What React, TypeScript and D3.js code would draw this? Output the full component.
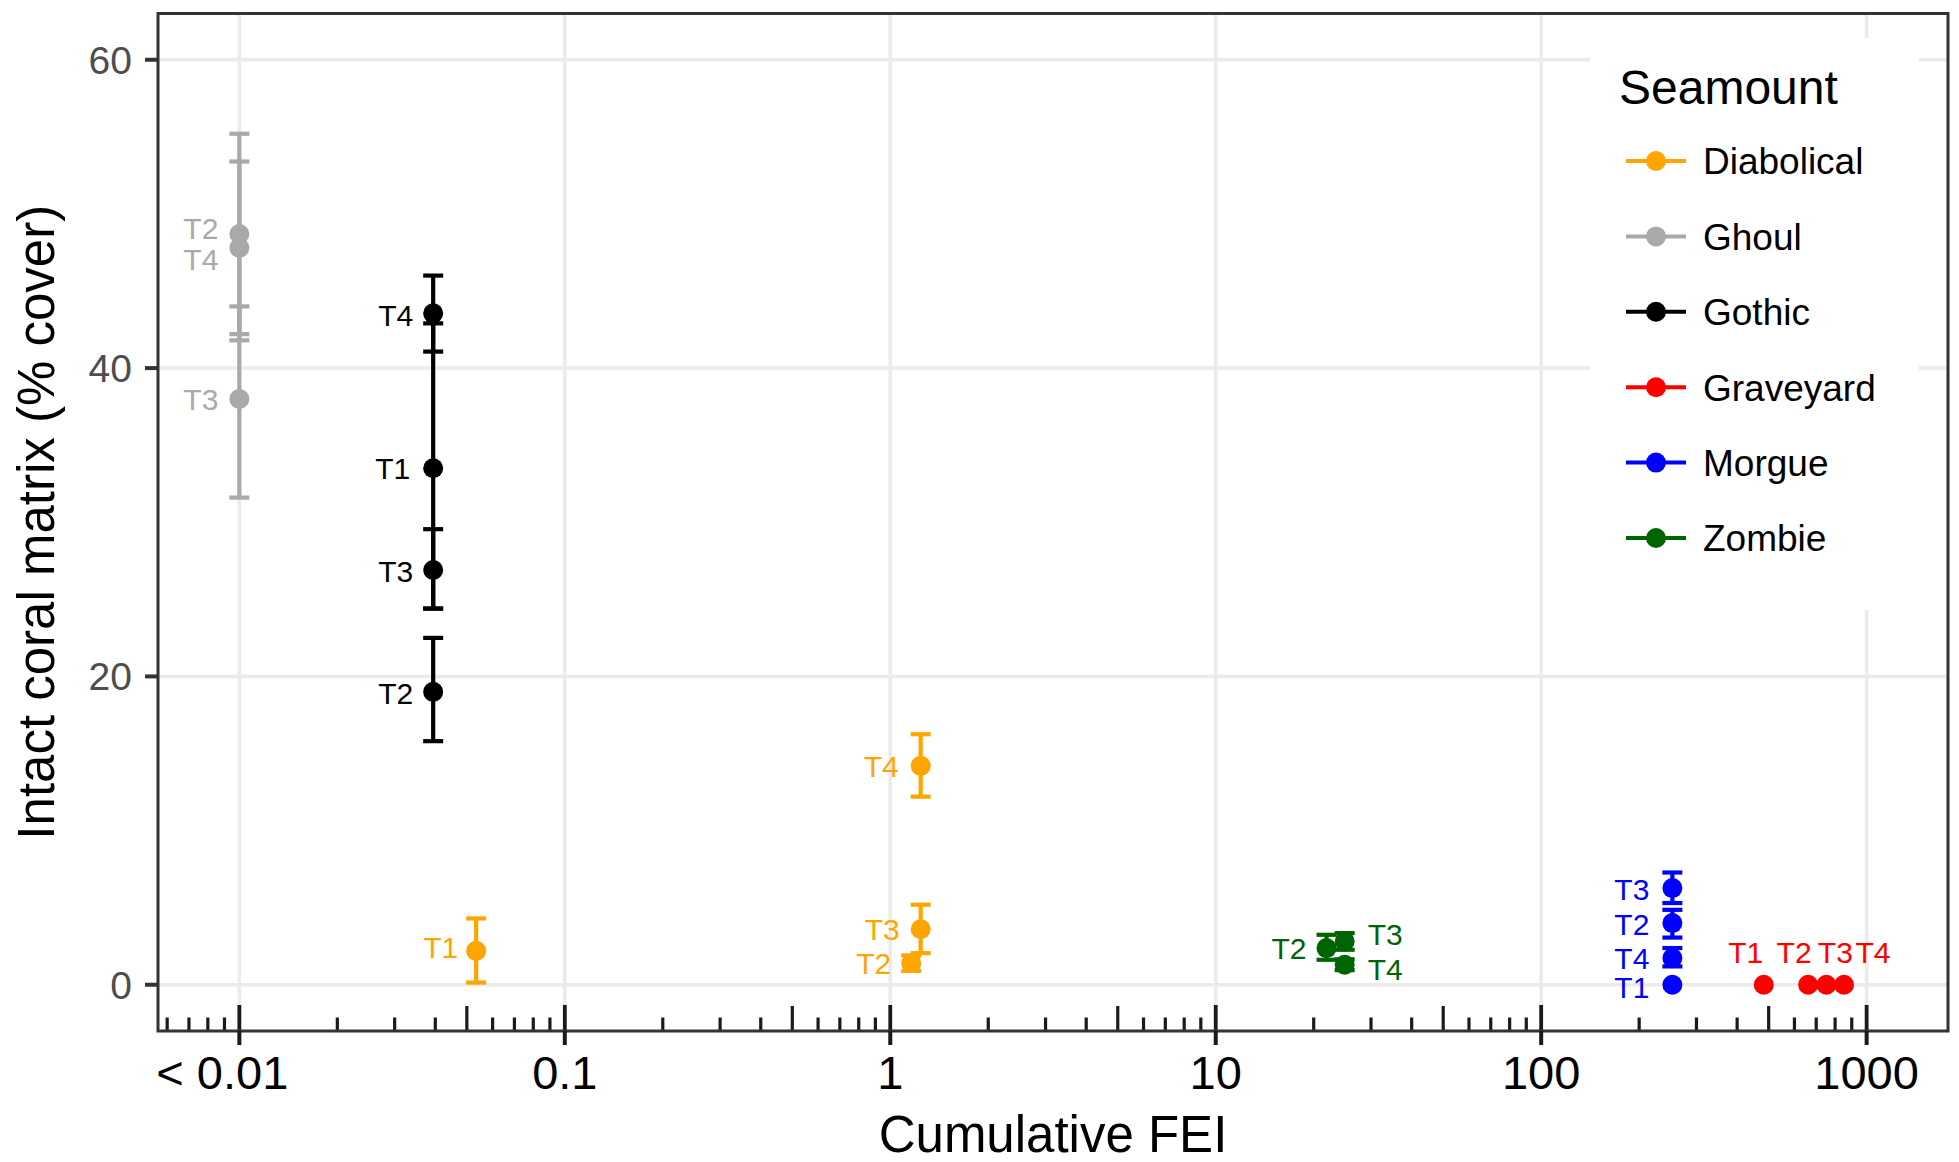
import React, { useRef, useEffect } from "react";
import * as d3 from "d3";

// seamounts, in legend order, with their colours
const seamounts = ["Diabolical", "Ghoul", "Gothic", "Graveyard", "Morgue", "Zombie"];
const seamountColors = ["#FFA500", "#A9A9A9", "#000000", "#FF0000", "#0000FF", "#006400"];

// one entry per transect
const pointSeamount = [
  "Diabolical", "Diabolical", "Diabolical", "Diabolical",
  "Ghoul", "Ghoul", "Ghoul",
  "Gothic", "Gothic", "Gothic", "Gothic",
  "Graveyard", "Graveyard", "Graveyard", "Graveyard",
  "Morgue", "Morgue", "Morgue", "Morgue",
  "Zombie", "Zombie", "Zombie",
];
const pointTransect = [
  "T1", "T2", "T3", "T4",
  "T2", "T3", "T4",
  "T1", "T2", "T3", "T4",
  "T1", "T2", "T3", "T4",
  "T1", "T2", "T3", "T4",
  "T2", "T3", "T4",
];
const pointFEI = [
  0.0534, 1.16, 1.24, 1.24,
  0.01, 0.01, 0.01,
  0.0394, 0.0394, 0.0394, 0.0394,
  483, 661, 752, 852,
  253, 253, 253, 253,
  21.9, 24.9, 24.9,
];
const pointCover = [
  2.2, 1.4, 3.6, 14.2,
  48.7, 38.0, 47.8,
  33.5, 19.0, 26.9, 43.55,
  0, 0, 0, 0,
  0, 4.0, 6.27, 1.73,
  2.38, 2.81, 1.3,
];
const pointLow: (number | null)[] = [
  0.14, 0.9, 2.05, 12.2,
  42.2, 31.6, 41.8,
  24.4, 15.8, 24.4, 41.07,
  null, null, null, null,
  null, 3.06, 5.3, 1.19,
  1.62, 2.27, 0.95,
];
const pointHigh: (number | null)[] = [
  4.3, 1.9, 5.19, 16.25,
  55.2, 44.0, 53.4,
  42.9, 22.5, 29.55, 46.0,
  null, null, null, null,
  null, 4.86, 7.28, 2.38,
  3.24, 3.35, 1.65,
];

// axis ticks
const yTicks = [0, 20, 40, 60];
const xTicks = [0.01, 0.1, 1, 10, 100, 1000];
const xTickLabels = ["< 0.01", "0.1", "1", "10", "100", "1000"];

// repelled label placement: [dx, dy, anchor] in px from the point
const labelNudge: Record<string, [number, number, string]> = {
  "Diabolical-T1": [-18, -4, "end"],
  "Diabolical-T2": [-20, 0, "end"],
  "Diabolical-T3": [-21, 0, "end"],
  "Diabolical-T4": [-22, 0, "end"],
  "Ghoul-T2": [-21, -6, "end"],
  "Ghoul-T3": [-21, 0, "end"],
  "Ghoul-T4": [-21, 11, "end"],
  "Gothic-T1": [-23, 0, "end"],
  "Gothic-T2": [-20, 1, "end"],
  "Gothic-T3": [-20, 1.5, "end"],
  "Gothic-T4": [-20, 2, "end"],
  "Graveyard-T1": [-18, -33, "middle"],
  "Graveyard-T2": [-14, -33, "middle"],
  "Graveyard-T3": [9, -33, "middle"],
  "Graveyard-T4": [29, -33, "middle"],
  "Morgue-T1": [-23, 2, "end"],
  "Morgue-T2": [-23, 1.5, "end"],
  "Morgue-T3": [-23, 1.5, "end"],
  "Morgue-T4": [-23, 0.5, "end"],
  "Zombie-T2": [-20, 0, "end"],
  "Zombie-T3": [23, -7, "start"],
  "Zombie-T4": [23, 4, "start"],
};

const FONT = "'Liberation Sans', Arial, sans-serif";

const SeamountChart = ({ width = 1959, height = 1162 }) => {
  const chartRef = useRef<SVGSVGElement | null>(null);

  useEffect(() => {
    if (!chartRef.current) return;
    const svg = d3.select(chartRef.current);
    svg.selectAll("*").remove();

    const panel = { left: 158, right: 1948, top: 13.5, bottom: 1031 };

    const x = d3
      .scaleLog()
      .domain([10 ** -2.25, 10 ** 3.25])
      .range([panel.left, panel.right]);
    const y = d3.scaleLinear().domain([-3, 63]).range([panel.bottom, panel.top]);
    const color = d3.scaleOrdinal<string, string>().domain(seamounts).range(seamountColors);

    svg.append("rect").attr("width", width).attr("height", height).attr("fill", "#fff");

    // grid
    const grid = svg.append("g").attr("stroke", "#EBEBEB").attr("stroke-width", 3.5);
    grid
      .selectAll("line.gy")
      .data(yTicks)
      .enter()
      .append("line")
      .attr("x1", panel.left)
      .attr("x2", panel.right)
      .attr("y1", (d) => y(d))
      .attr("y2", (d) => y(d));
    grid
      .selectAll("line.gx")
      .data(xTicks)
      .enter()
      .append("line")
      .attr("x1", (d) => x(d))
      .attr("x2", (d) => x(d))
      .attr("y1", panel.top)
      .attr("y2", panel.bottom);

    // legend background sits over the grid
    svg
      .append("rect")
      .attr("x", 1590)
      .attr("y", 38)
      .attr("width", 329)
      .attr("height", 572)
      .attr("fill", "#fff");

    const idx = d3.range(pointFEI.length);
    const key = (i: number) => labelNudge[`${pointSeamount[i]}-${pointTransect[i]}`];

    // error bars
    const bars = svg
      .append("g")
      .attr("stroke-width", 4.2)
      .selectAll("g")
      .data(idx.filter((i) => pointLow[i] !== null && pointHigh[i] !== null))
      .enter()
      .append("g")
      .attr("stroke", (i) => color(pointSeamount[i]));
    bars
      .append("line")
      .attr("x1", (i) => x(pointFEI[i]))
      .attr("x2", (i) => x(pointFEI[i]))
      .attr("y1", (i) => y(pointLow[i] as number))
      .attr("y2", (i) => y(pointHigh[i] as number));
    bars
      .append("line")
      .attr("x1", (i) => x(pointFEI[i]) - 10)
      .attr("x2", (i) => x(pointFEI[i]) + 10)
      .attr("y1", (i) => y(pointLow[i] as number))
      .attr("y2", (i) => y(pointLow[i] as number));
    bars
      .append("line")
      .attr("x1", (i) => x(pointFEI[i]) - 10)
      .attr("x2", (i) => x(pointFEI[i]) + 10)
      .attr("y1", (i) => y(pointHigh[i] as number))
      .attr("y2", (i) => y(pointHigh[i] as number));

    // points
    svg
      .append("g")
      .selectAll("circle")
      .data(idx)
      .enter()
      .append("circle")
      .attr("cx", (i) => x(pointFEI[i]))
      .attr("cy", (i) => y(pointCover[i]))
      .attr("r", 10)
      .attr("fill", (i) => color(pointSeamount[i]));

    // transect labels
    svg
      .append("g")
      .style("font-family", FONT)
      .attr("font-size", 30)
      .selectAll("text")
      .data(idx)
      .enter()
      .append("text")
      .attr("x", (i) => x(pointFEI[i]) + key(i)[0])
      .attr("y", (i) => y(pointCover[i]) + key(i)[1] + 10.8)
      .attr("text-anchor", (i) => key(i)[2])
      .attr("fill", (i) => color(pointSeamount[i]))
      .text((i) => pointTransect[i]);

    // log ticks inside the panel along the bottom
    const logTicks: { v: number; k: number }[] = [];
    for (let e = -3; e <= 3; e++) {
      for (let k = 1; k <= 9; k++) {
        const v = k * 10 ** e;
        const px = x(v);
        if (px >= panel.left + 2 && px <= panel.right - 2) logTicks.push({ v, k });
      }
    }
    svg
      .append("g")
      .attr("stroke", "#1a1a1a")
      .selectAll("line")
      .data(logTicks)
      .enter()
      .append("line")
      .attr("x1", (d) => x(d.v))
      .attr("x2", (d) => x(d.v))
      .attr("y1", panel.bottom)
      .attr("y2", (d) => panel.bottom - (d.k === 1 ? 26 : d.k === 5 ? 25 : 13.5))
      .attr("stroke-width", (d) => (d.k === 1 ? 3.8 : 3.2));

    // panel border
    svg
      .append("rect")
      .attr("x", panel.left)
      .attr("y", panel.top)
      .attr("width", panel.right - panel.left)
      .attr("height", panel.bottom - panel.top)
      .attr("fill", "none")
      .attr("stroke", "#333333")
      .attr("stroke-width", 3);

    // y axis
    const yAxis = svg.append("g");
    yAxis
      .selectAll("line")
      .data(yTicks)
      .enter()
      .append("line")
      .attr("x1", panel.left - 13)
      .attr("x2", panel.left)
      .attr("y1", (d) => y(d))
      .attr("y2", (d) => y(d))
      .attr("stroke", "#333333")
      .attr("stroke-width", 4);
    yAxis
      .selectAll("text")
      .data(yTicks)
      .enter()
      .append("text")
      .attr("x", 132)
      .attr("y", (d) => y(d) + 14)
      .attr("text-anchor", "end")
      .attr("font-size", 39)
      .style("font-family", FONT)
      .attr("fill", "#4D4D4D")
      .text((d) => d);

    // x axis
    const xAxis = svg.append("g");
    xAxis
      .selectAll("line")
      .data(xTicks)
      .enter()
      .append("line")
      .attr("x1", (d) => x(d))
      .attr("x2", (d) => x(d))
      .attr("y1", panel.bottom)
      .attr("y2", panel.bottom + 14)
      .attr("stroke", "#1a1a1a")
      .attr("stroke-width", 4);
    xAxis
      .selectAll("text")
      .data(xTicks)
      .enter()
      .append("text")
      .attr("x", (d) => x(d))
      .attr("dx", (_d, i) => (i === 0 ? -17 : 0))
      .attr("y", 1089)
      .attr("text-anchor", "middle")
      .attr("font-size", 47)
      .style("font-family", FONT)
      .attr("fill", "#000")
      .text((_d, i) => xTickLabels[i]);

    // axis titles
    svg
      .append("text")
      .attr("x", (panel.left + panel.right) / 2)
      .attr("y", 1152)
      .attr("text-anchor", "middle")
      .attr("font-size", 51)
      .style("font-family", FONT)
      .text("Cumulative FEI");
    svg
      .append("text")
      .attr("transform", `translate(54, ${(panel.top + panel.bottom) / 2}) rotate(-90)`)
      .attr("text-anchor", "middle")
      .attr("font-size", 51)
      .style("font-family", FONT)
      .text("Intact coral matrix (% cover)");

    // legend
    const legend = svg.append("g").style("font-family", FONT);
    legend
      .append("text")
      .attr("x", 1619)
      .attr("y", 104)
      .attr("font-size", 48)
      .text("Seamount");
    const keys = legend
      .selectAll("g")
      .data(seamounts)
      .enter()
      .append("g")
      .attr("transform", (_d, i) => `translate(0, ${161 + i * 75.4})`);
    keys
      .append("line")
      .attr("x1", 1626)
      .attr("x2", 1686)
      .attr("stroke", (d) => color(d))
      .attr("stroke-width", 4);
    keys
      .append("circle")
      .attr("cx", 1656)
      .attr("r", 10)
      .attr("fill", (d) => color(d));
    keys
      .append("text")
      .attr("x", 1703)
      .attr("y", 13.3)
      .attr("font-size", 37)
      .text((d) => d);
  }, [width, height]);

  return (
    <svg
      ref={chartRef}
      width={width}
      height={height}
      viewBox={`0 0 ${width} ${height}`}
      style={{ position: "absolute", left: 0, top: 0, display: "block" }}
    />
  );
};

export default function App() {
  return <SeamountChart />;
}
